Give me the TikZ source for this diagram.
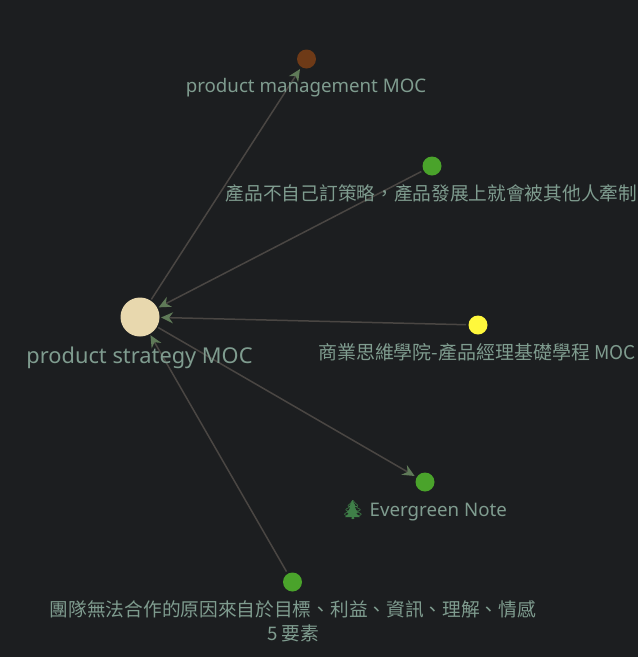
\documentclass[tikz,border=0pt]{standalone}
\usepackage{fontspec}
\setmainfont{Noto Sans}
\newfontfamily\cjk{Noto Sans CJK TC}
\newfontfamily\emojifont{Noto Emoji}
\usetikzlibrary{arrows.meta}
\definecolor{bg}{HTML}{1C1E20}
\definecolor{lbl}{HTML}{7F9C8F}
\definecolor{edge}{HTML}{4A4643}
\definecolor{tip}{HTML}{5F7A58}
\definecolor{cream}{HTML}{E8D8AE}
\definecolor{ngreen}{HTML}{4AA32B}
\definecolor{nyellow}{HTML}{FFF83C}
\definecolor{nbrown}{HTML}{6E3A17}
\definecolor{tree}{HTML}{3F7F48}
\tikzset{
  dot/.style={circle,inner sep=0pt,outer sep=2.5pt,minimum size=#1},
  lab/.style={text=lbl,font=\fontsize{18.7}{22}\selectfont,inner sep=0pt,anchor=base},
  clab/.style={text=lbl,font=\fontsize{18.7}{24}\selectfont\cjk,inner sep=0pt,anchor=base,align=center},
  link/.style={draw=edge,line width=1.5pt,-{Stealth[length=12pt,width=11pt,color=tip]}},
}
\begin{document}
\begin{tikzpicture}[x=1pt,y=-1pt]
\useasboundingbox[fill=bg] (0,0) rectangle (638,657);
\node[dot=39,fill=cream,outer sep=1.5pt] (main) at (140,317) {};
\node[dot=19,fill=nbrown] (pm) at (306.5,59) {};
\node[dot=19,fill=ngreen] (neg) at (432,166) {};
\node[dot=19,fill=nyellow] (biz) at (478,325) {};
\node[dot=19,fill=ngreen] (ever) at (425,482) {};
\node[dot=19,fill=ngreen] (team) at (292.5,582) {};
\draw[link] (main) -- (pm);
\draw[link] (neg) -- (main);
\draw[link] (biz) -- (main);
\draw[link] (main) -- (ever);
\draw[link] (team) -- (main);
\node[lab,font=\fontsize{21.8}{25}\selectfont] (tmain) at (139.5,363) {product strategy MOC};
\node[lab] (tpm) at (306,92.5) {product management MOC};
\node[clab] (tneg) at (431.5,200.5) {產品不自己訂策略，產品發展上就會被其他人牽制};
\node[clab,font=\fontsize{18.95}{24}\selectfont\cjk] (tbiz) at (477,359) {商業思維學院-產品經理基礎學程 MOC};
\fill[tree] (352.5,500) -- (356,507) -- (354.5,507) -- (358,513) -- (356,513) -- (360,517) -- (345,517) -- (349,513) -- (347,513) -- (350.5,507) -- (349,507) -- cycle;
\node[lab] (tever) at (424,516) {{\color{tree}\emojifont\char"1F332}\ Evergreen Note};
\node[clab] (tteam) at (293,640) {團隊無法合作的原因來自於目標、利益、資訊、理解、情感\\5 要素};
\end{tikzpicture}
\end{document}
